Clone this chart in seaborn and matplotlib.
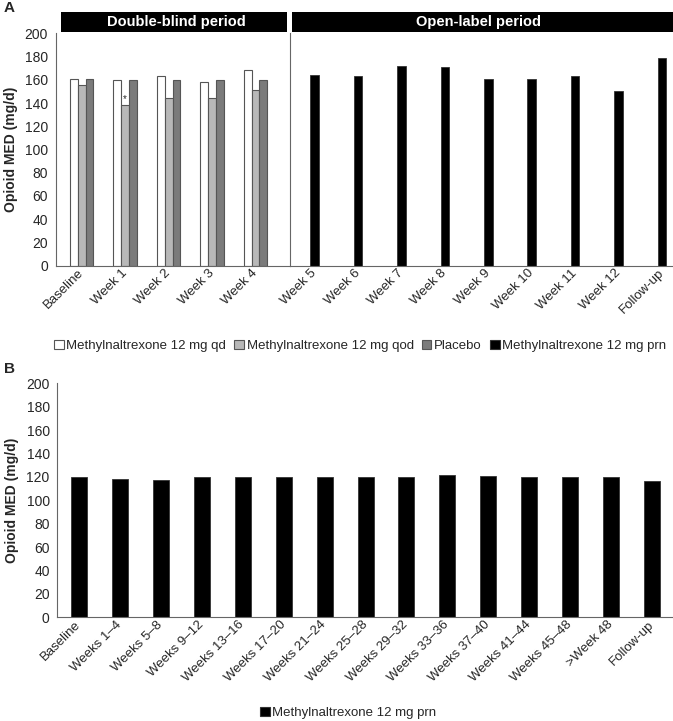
import numpy as np
import pandas as pd
import matplotlib
matplotlib.use("Agg")
import matplotlib.pyplot as plt
from matplotlib.patches import Rectangle, Patch
from matplotlib.ticker import FixedLocator
import seaborn as sns

# ---------------- data ----------------
db_cats = ["Baseline", "Week 1", "Week 2", "Week 3", "Week 4"]
qd_vals = [161, 160, 163, 158.5, 168.5]
qod_vals = [155.5, 138, 144.5, 144.5, 151]
placebo_vals = [161, 160, 160, 160, 160]
series_names = ["Methylnaltrexone 12 mg qd", "Methylnaltrexone 12 mg qod", "Placebo"]
prn_name = "Methylnaltrexone 12 mg prn"

ol_cats = ["Week 5", "Week 6", "Week 7", "Week 8", "Week 9", "Week 10",
           "Week 11", "Week 12", "Follow-up"]
ol_vals = [164.5, 163, 172, 171, 160.5, 160.5, 163, 150.5, 178.5]

b_cats = ["Baseline", "Weeks 1\u20134", "Weeks 5\u20138", "Weeks 9\u201312", "Weeks 13\u201316",
          "Weeks 17\u201320", "Weeks 21\u201324", "Weeks 25\u201328", "Weeks 29\u201332",
          "Weeks 33\u201336", "Weeks 37\u201340", "Weeks 41\u201344", "Weeks 45\u201348",
          ">Week 48", "Follow-up"]
b_vals = [119.7, 118, 117.4, 119.7, 119.7, 119.7, 119.7, 119.7, 119.7,
          121.6, 120.8, 119.5, 119.5, 119.5, 116.4]

y_ticks = [0, 20, 40, 60, 80, 100, 120, 140, 160, 180, 200]

# ---------------- style ----------------
sns.set_style("white")
plt.rcParams["font.family"] = ["Liberation Sans", "DejaVu Sans"]
plt.rcParams["axes.linewidth"] = 0.8

W, H = 673, 721
fig = plt.figure(figsize=(W / 100, H / 100), dpi=100)

def px_ax(x0, y0, x1, y1):
    return fig.add_axes([x0 / W, 1 - y1 / H, (x1 - x0) / W, (y1 - y0) / H])

colors = ["#ffffff", "#b8b8b8", "#7b7b7b"]
edge = "#555555"
spine_c = "#666666"
tick_fs = 9.5

def style_x(ax, ncat, left, right):
    ax.set_xlim(left, right)
    ax.set_xticks(range(ncat))
    ax.tick_params(axis="x", which="major", length=0, pad=4)
    bounds = [left] + [i + 0.5 for i in range(ncat - 1)] + [ncat - 0.5]
    ax.xaxis.set_minor_locator(FixedLocator(bounds))
    ax.tick_params(axis="x", which="minor", length=3.5, width=0.8, color=spine_c, direction="out")
    for lab in ax.get_xticklabels():
        lab.set_rotation(45)
        lab.set_ha("right")
        lab.set_va("center")
        lab.set_rotation_mode("anchor")
        lab.set_fontsize(tick_fs)
    ax.set_xlabel("")

def style_y(ax, show=True):
    ax.set_ylim(0, 200)
    ax.set_yticks(y_ticks)
    if show:
        ax.tick_params(axis="y", length=3.5, width=0.8, color=spine_c, direction="out",
                       labelsize=10, pad=2)
        ax.set_ylabel("Opioid MED (mg/d)", fontsize=10, fontweight="bold", labelpad=5)
    else:
        ax.tick_params(axis="y", length=0, labelleft=False)
        ax.set_ylabel("")

# ---------------- Panel A: double-blind ----------------
axL = px_ax(55.7, 33.3, 290, 265.7)
dfA = pd.DataFrame({
    "period": db_cats * 3,
    "value": qd_vals + qod_vals + placebo_vals,
    "group": [series_names[0]] * 5 + [series_names[1]] * 5 + [series_names[2]] * 5,
})
sns.barplot(data=dfA, x="period", y="value", hue="group", hue_order=series_names,
            palette=colors, width=0.54, gap=0, edgecolor=edge, linewidth=0.8,
            errorbar=None, legend=False, ax=axL, saturation=1)
style_x(axL, len(db_cats), -0.6, 4.795)
style_y(axL, True)
for s in ["top", "right"]:
    axL.spines[s].set_visible(False)
for s in ["left", "bottom"]:
    axL.spines[s].set_color(spine_c)
axL.text(1, qod_vals[1] + 1.5, "*", ha="center", va="bottom", fontsize=7)

# ---------------- Panel A: open-label ----------------
axR = px_ax(290, 33.3, 683.6, 265.7)
dfO = pd.DataFrame({"period": ol_cats, "value": ol_vals})
sns.barplot(data=dfO, x="period", y="value", color="black", width=0.2,
            edgecolor="#333333", linewidth=0.6, errorbar=None, ax=axR, saturation=1)
style_x(axR, len(ol_cats), -0.569, 8.5)
style_y(axR, False)
for s in ["top", "right"]:
    axR.spines[s].set_visible(False)
for s in ["left", "bottom"]:
    axR.spines[s].set_color(spine_c)

# period headers
def header(x0, x1, text, tx):
    fig.add_artist(Rectangle((x0 / W, 1 - 32.3 / H), (x1 - x0) / W, 20.6 / H,
                             transform=fig.transFigure, facecolor="black",
                             edgecolor="none"))
    fig.text(tx / W, 1 - 22 / H, text, color="white", fontsize=10.5,
             fontweight="bold", ha="center", va="center")

header(61, 287, "Double-blind period", 176.5)
header(292, 673, "Open-label period", 478)

fig.text(4 / W, 1 - 8 / H, "A", fontsize=11, fontweight="bold", ha="left", va="center")

# legend A
handlesA = [Patch(facecolor=c, edgecolor=edge, linewidth=0.8) for c in colors] + \
           [Patch(facecolor="black", edgecolor="#333333", linewidth=0.8)]
fig.legend(handlesA, series_names + [prn_name], loc="center",
           bbox_to_anchor=(360 / W, 1 - 346 / H), ncol=4, frameon=False,
           fontsize=9.5, handlelength=0.75, handleheight=0.75, handletextpad=0.2,
           columnspacing=0.6, borderpad=0)

# ---------------- Panel B ----------------
axB = px_ax(57.3, 383.3, 672.3, 617.3)
dfB = pd.DataFrame({"period": b_cats, "value": b_vals})
sns.barplot(data=dfB, x="period", y="value", color="black", width=0.39,
            edgecolor="#333333", linewidth=0.6, errorbar=None, ax=axB, saturation=1)
style_x(axB, len(b_cats), -0.525, 14.49)
style_y(axB, True)
for s in ["top", "right"]:
    axB.spines[s].set_visible(False)
for s in ["left", "bottom"]:
    axB.spines[s].set_color(spine_c)

fig.text(4 / W, 1 - 369 / H, "B", fontsize=11, fontweight="bold", ha="left", va="center")

fig.legend([Patch(facecolor="black", edgecolor="#333333", linewidth=0.8)], [prn_name],
           loc="center", bbox_to_anchor=(348 / W, 1 - 713 / H), frameon=False,
           fontsize=9.5, handlelength=0.75, handleheight=0.75, handletextpad=0.2,
           borderpad=0)

fig.savefig("out.png", dpi=100)
